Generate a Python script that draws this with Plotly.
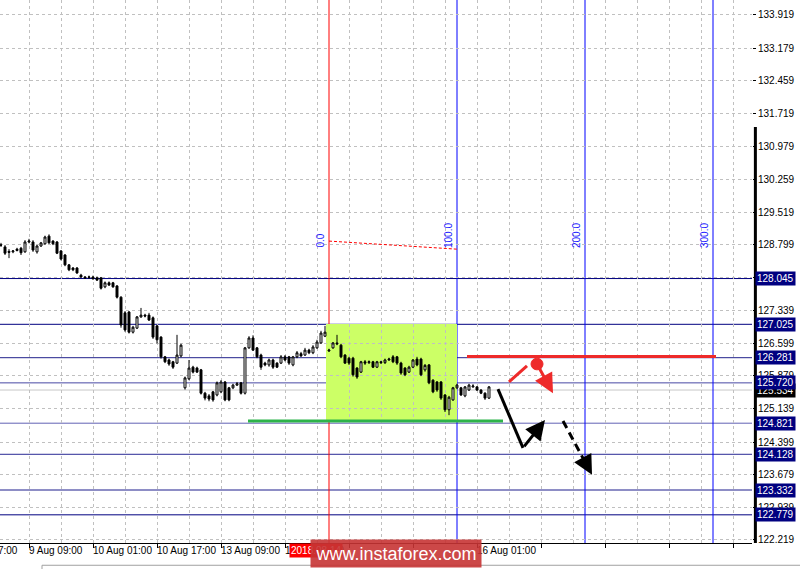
import plotly.graph_objects as go

# ---------------- data ----------------
opens = [128.79,128.75,128.65,128.64,128.67,128.72,128.64,128.86,128.86,128.64,
         128.77,128.82,128.99,128.88,128.86,128.66,128.57,128.35,128.28,128.28,
         128.12,128.08,128.07,128.08,128.06,128.06,127.86,127.95,127.95,127.88,
         127.63,127.28,127.30,126.85,126.94,127.19,127.23,127.23,127.17,126.99,
         126.74,126.30,126.23,126.19,126.16,126.32,125.61,125.81,126.07,126.05,
         126.01,125.49,125.43,125.52,125.45,125.52,125.74,125.61,125.61,125.67,
         125.72,125.49,126.50,126.72,126.50,126.34,126.16,126.12,126.23,126.16,
         126.16,126.30,126.30,126.12,126.30,126.37,126.34,126.45,126.39,126.50,
         126.61,126.76,126.43,126.50,126.61,126.56,126.34,126.27,126.27,126.05,
         125.96,126.19,126.17,126.19,126.07,126.19,126.17,126.23,126.30,126.30,
         126.16,126.05,125.96,126.07,126.25,126.25,126.01,126.12,125.78,125.74,
         125.74,125.45,125.12,125.34,125.61,125.61,125.43,125.56,125.63,125.63,
         125.56,125.49,125.38]
highs = [128.84,128.79,128.70,128.68,128.73,128.75,128.90,128.93,128.90,128.79,
         128.86,129.00,129.03,128.90,128.88,128.68,128.59,128.37,128.30,128.30,
         128.15,128.10,128.11,128.11,128.09,128.08,127.98,127.98,127.97,127.90,
         127.65,127.32,127.32,126.99,127.21,127.39,127.26,127.28,127.20,127.01,
         126.76,126.32,126.26,126.21,126.79,126.59,125.86,126.23,126.10,126.08,
         126.03,125.52,125.47,125.54,125.75,125.78,125.76,125.63,125.70,125.74,
         125.74,126.52,126.76,126.78,126.52,126.37,126.19,126.26,126.26,126.18,
         126.34,126.34,126.32,126.32,126.43,126.41,126.50,126.48,126.56,126.68,
         126.88,126.99,126.48,126.63,126.79,126.59,126.36,126.30,126.30,126.07,
         126.21,126.23,126.22,126.21,126.21,126.21,126.26,126.28,126.34,126.32,
         126.19,126.07,126.10,126.25,126.30,126.28,126.14,126.14,125.80,125.76,
         125.76,125.47,125.43,125.63,125.70,125.63,125.65,125.70,125.69,125.65,
         125.58,125.51,125.65]
lows = [128.75,128.57,128.50,128.61,128.65,128.57,128.62,128.83,128.64,128.60,
        128.75,128.80,128.82,128.79,128.59,128.45,128.32,128.21,128.21,128.15,
        128.06,128.04,128.04,128.02,127.99,127.80,127.83,127.88,127.84,127.60,
        126.95,126.86,126.82,126.82,126.92,127.17,127.18,127.10,126.70,126.60,
        126.26,126.16,126.10,126.03,126.14,126.29,125.57,125.78,125.93,125.94,
        125.46,125.33,125.31,125.30,125.42,125.49,125.31,125.31,125.58,125.65,
        125.46,125.46,126.48,126.43,126.27,126.01,126.09,126.08,126.03,126.05,
        126.14,126.20,126.12,126.09,126.27,126.30,126.32,126.36,126.36,126.48,
        126.59,126.74,126.41,126.48,126.56,126.27,126.14,126.12,125.86,125.81,
        125.94,126.12,126.14,126.05,126.05,126.14,126.14,126.21,126.16,126.12,
        125.90,125.87,125.94,126.05,126.09,125.87,125.97,125.69,125.49,125.52,
        125.34,125.07,125.00,125.32,125.58,125.43,125.40,125.54,125.61,125.54,
        125.47,125.34,125.36]
closes = [128.79,128.61,128.63,128.66,128.70,128.62,128.86,128.88,128.68,128.77,
          128.84,128.97,128.84,128.82,128.61,128.48,128.35,128.24,128.24,128.17,
          128.08,128.06,128.08,128.04,128.01,127.83,127.95,127.90,127.86,127.63,
          127.01,126.90,126.85,126.96,127.19,127.23,127.21,127.12,126.74,126.68,
          126.30,126.19,126.14,126.07,126.34,126.56,125.83,126.05,125.96,125.96,
          125.49,125.38,125.36,125.34,125.72,125.74,125.34,125.34,125.67,125.70,
          125.49,126.50,126.72,126.45,126.30,126.07,126.12,126.23,126.07,126.07,
          126.30,126.23,126.16,126.30,126.39,126.32,126.45,126.39,126.52,126.63,
          126.83,126.85,126.45,126.61,126.59,126.30,126.16,126.16,125.90,125.85,
          126.19,126.16,126.19,126.07,126.19,126.17,126.23,126.25,126.19,126.16,
          125.94,125.90,126.07,126.23,126.12,125.90,126.11,125.72,125.52,125.56,
          125.38,125.12,125.40,125.61,125.67,125.45,125.63,125.67,125.65,125.56,
          125.49,125.38,125.63]
bars = list(range(len(closes)))

price_ticks = [122.219, 122.939, 123.679, 124.399, 125.139, 125.879, 126.599, 127.339,
               128.069, 128.799, 129.519, 130.259, 130.979, 131.719, 132.459, 133.179, 133.919]
time_tick_bars = [7, 23, 39, 55, 71, 119]
time_tick_labels = ["9 Aug 09:00", "10 Aug 01:00", "10 Aug 17:00", "13 Aug 09:00",
                    "14 Aug 01:00", "16 Aug 01:00"]

levels = [128.045, 127.025, 126.281, 125.720, 124.821, 124.128, 123.332, 122.779]
level_colors = ["#000080", "#000080", "#22228c", "#4848a4", "#6262b4", "#2a2a94", "#1c1c8c", "#000080"]
bid_price = 125.56
bid_label = "125.534"

fib_bars = [82, 114, 146, 178]
fib_labels = ["0.0", "100.0", "200.0", "300.0"]
fib_colors = ["#ff0000", "#0000ff", "#0000ff", "#0000ff"]
fib_trend = ([82, 114], [128.88, 128.70])

zone_bars = (81.25, 114)
zone_prices = (124.89, 127.03)
support_line = ([61.75, 125.5], 124.87)
resist_line = ([116.5, 178.75], 126.31)

black_path = ([124.25, 130.5], [125.58, 124.27])
black_arrow = ((130.5, 124.27), (136.0, 124.89))
black_dash = ((140.5, 124.87), (147.75, 123.67))
red_seg = ([127.0, 131.5], [125.74, 126.10])
red_dot = (134.0, 126.14)
red_arrow_tip = (138.0, 125.49)

X_RANGE = [-0.25, 187.75]
Y_RANGE = [122.151, 134.253]

FONT = "Liberation Sans"
LABEL_Y = -0.0147

fig = go.Figure()

fig.add_trace(go.Candlestick(
    x=bars, open=opens, high=highs, low=lows, close=closes,
    increasing=dict(line=dict(color="black", width=1), fillcolor="white"),
    decreasing=dict(line=dict(color="black", width=1), fillcolor="black"),
    whiskerwidth=0, showlegend=False, hoverinfo="skip"))

shapes = []
shapes.append(dict(type="rect", xref="x", yref="y", x0=zone_bars[0], x1=zone_bars[1],
                   y0=zone_prices[0], y1=zone_prices[1], fillcolor="#ccff66",
                   line=dict(width=0), layer="below"))
for lv, c in zip(levels, level_colors):
    shapes.append(dict(type="line", xref="paper", yref="y", x0=0, x1=1, y0=lv, y1=lv,
                       line=dict(color=c, width=1), layer="between"))
shapes.append(dict(type="line", xref="paper", yref="y", x0=0, x1=1, y0=bid_price, y1=bid_price,
                   line=dict(color="#c8c8c8", width=1), layer="between"))
for b, c in zip(fib_bars, fib_colors):
    shapes.append(dict(type="line", xref="x", yref="paper", x0=b, x1=b, y0=0, y1=1,
                       line=dict(color=c, width=1), layer="between"))
shapes.append(dict(type="line", xref="x", yref="y", x0=fib_trend[0][0], x1=fib_trend[0][1],
                   y0=fib_trend[1][0], y1=fib_trend[1][1],
                   line=dict(color="#ff0000", width=1, dash="3px,2px")))
shapes.append(dict(type="line", xref="x", yref="y", x0=support_line[0][0], x1=support_line[0][1],
                   y0=support_line[1], y1=support_line[1], line=dict(color="#2db34a", width=3)))
shapes.append(dict(type="line", xref="x", yref="y", x0=resist_line[0][0], x1=resist_line[0][1],
                   y0=resist_line[1], y1=resist_line[1], line=dict(color="#ee2a2a", width=3)))
shapes.append(dict(type="line", xref="x", yref="y", x0=black_path[0][0], x1=black_path[0][1],
                   y0=black_path[1][0], y1=black_path[1][1], line=dict(color="black", width=3)))
(dx0, dy0), (dx1, dy1) = black_dash
shapes.append(dict(type="line", xref="x", yref="y", x0=dx0, y0=dy0,
                   x1=dx0 + (dx1 - dx0) * 0.8, y1=dy0 + (dy1 - dy0) * 0.8,
                   line=dict(color="black", width=3, dash="8px,5px")))
shapes.append(dict(type="line", xref="x", yref="y", x0=red_seg[0][0], x1=red_seg[0][1],
                   y0=red_seg[1][0], y1=red_seg[1][1], line=dict(color="#ee2a2a", width=3)))
shapes.append(dict(type="circle", xref="x", yref="y", x0=red_dot[0] - 1.5, x1=red_dot[0] + 1.5,
                   y0=red_dot[1] - 0.13, y1=red_dot[1] + 0.13, fillcolor="#ee2a2a",
                   line=dict(color="#ee2a2a", width=1)))
shapes.append(dict(type="line", xref="paper", yref="paper", x0=1.0045, x1=1.0045, y0=0, y1=0.766,
                   line=dict(color="black", width=3)))
shapes.append(dict(type="line", xref="paper", yref="paper", x0=42 / 752, x1=1.07, y0=-0.041, y1=-0.041,
                   line=dict(color="#a0a0a0", width=1)))
shapes.append(dict(type="line", xref="paper", yref="paper", x0=42 / 752, x1=42 / 752, y0=-0.041, y1=-0.06,
                   line=dict(color="#a0a0a0", width=1)))

annotations = []
annotations.append(dict(x=black_arrow[1][0], y=black_arrow[1][1], ax=black_arrow[0][0], ay=black_arrow[0][1],
                        xref="x", yref="y", axref="x", ayref="y", showarrow=True, text="",
                        arrowhead=2, arrowsize=1.3, arrowwidth=3, arrowcolor="black", standoff=0))
annotations.append(dict(x=dx1, y=dy1, ax=dx0 + (dx1 - dx0) * 0.7, ay=dy0 + (dy1 - dy0) * 0.7,
                        xref="x", yref="y", axref="x", ayref="y", showarrow=True, text="",
                        arrowhead=2, arrowsize=1.3, arrowwidth=3, arrowcolor="black", standoff=0))
annotations.append(dict(x=red_arrow_tip[0], y=red_arrow_tip[1], ax=red_dot[0], ay=red_dot[1],
                        xref="x", yref="y", axref="x", ayref="y", showarrow=True, text="",
                        arrowhead=2, arrowsize=1.3, arrowwidth=3, arrowcolor="#ee2a2a", standoff=0))
for b, t in zip(fib_bars, fib_labels):
    annotations.append(dict(x=b, y=128.68, xref="x", yref="y", text=t, textangle=-90,
                            showarrow=False, xanchor="right", yanchor="bottom", xshift=-1,
                            font=dict(family=FONT, size=10, color="#1a1aff")))
annotations.append(dict(x=-0.25, y=LABEL_Y, xref="x", yref="paper", text="8 Aug 17:00",
                        showarrow=False, xanchor="right", yanchor="middle", xshift=20,
                        font=dict(family=FONT, size=10, color="black")))
for b, t in zip(time_tick_bars, time_tick_labels):
    annotations.append(dict(x=b, y=LABEL_Y, xref="x", yref="paper", text=t, showarrow=False,
                            xanchor="left", yanchor="middle", xshift=-2,
                            font=dict(family=FONT, size=10, color="black")))
annotations.append(dict(x=1, y=bid_price, xref="paper", yref="y", text=bid_label, showarrow=False,
                        xanchor="left", xshift=3, bgcolor="black", borderpad=1,
                        font=dict(family=FONT, size=10, color="white")))
for lv in levels:
    annotations.append(dict(x=1, y=lv, xref="paper", yref="y", text=f"{lv:.3f}", showarrow=False,
                            xanchor="left", xshift=3, bgcolor="#000080", borderpad=1,
                            font=dict(family=FONT, size=10, color="white")))
annotations.append(dict(x=289 / 752, y=LABEL_Y, xref="paper", yref="paper", text="2018.08.14",
                        showarrow=False, xanchor="left", yanchor="middle", bgcolor="#ff0000", borderpad=1,
                        font=dict(family=FONT, size=10, color="white")))
annotations.append(dict(x=396 / 752, y=-0.0195, xref="paper", yref="paper", text="www.instaforex.com",
                        showarrow=False, xanchor="center", yanchor="middle", width=168, height=25,
                        bgcolor="rgba(198,52,52,0.9)",
                        font=dict(family=FONT, size=18, color="white")))

fig.update_layout(
    width=800, height=569,
    margin=dict(l=0, r=48, t=0, b=26),
    paper_bgcolor="white", plot_bgcolor="white",
    showlegend=False,
    shapes=shapes, annotations=annotations,
    xaxis=dict(range=X_RANGE, rangeslider=dict(visible=False), tickmode="linear", tick0=7, dtick=16,
               showticklabels=False, ticks="outside", ticklen=4, tickcolor="black",
               showgrid=True, gridcolor="#c0c0c0", griddash="3px,3px", gridwidth=1,
               minor=dict(tick0=7, dtick=8, showgrid=True, gridcolor="#c0c0c0", griddash="3px,3px"),
               showline=True, linecolor="black", linewidth=1, zeroline=False),
    yaxis=dict(range=Y_RANGE, side="right", tickmode="array", tickvals=price_ticks,
               ticktext=[f"{v:.3f}" for v in price_ticks], ticks="outside", ticklen=3,
               tickcolor="black", tickfont=dict(family=FONT, size=10, color="black"),
               showgrid=True, gridcolor="#c0c0c0", griddash="3px,3px", gridwidth=1,
               showline=False, zeroline=False),
)

fig.write_html("out.html", config={"displayModeBar": False},
               post_script="document.body.style.margin='0';document.body.style.overflow='hidden';")
